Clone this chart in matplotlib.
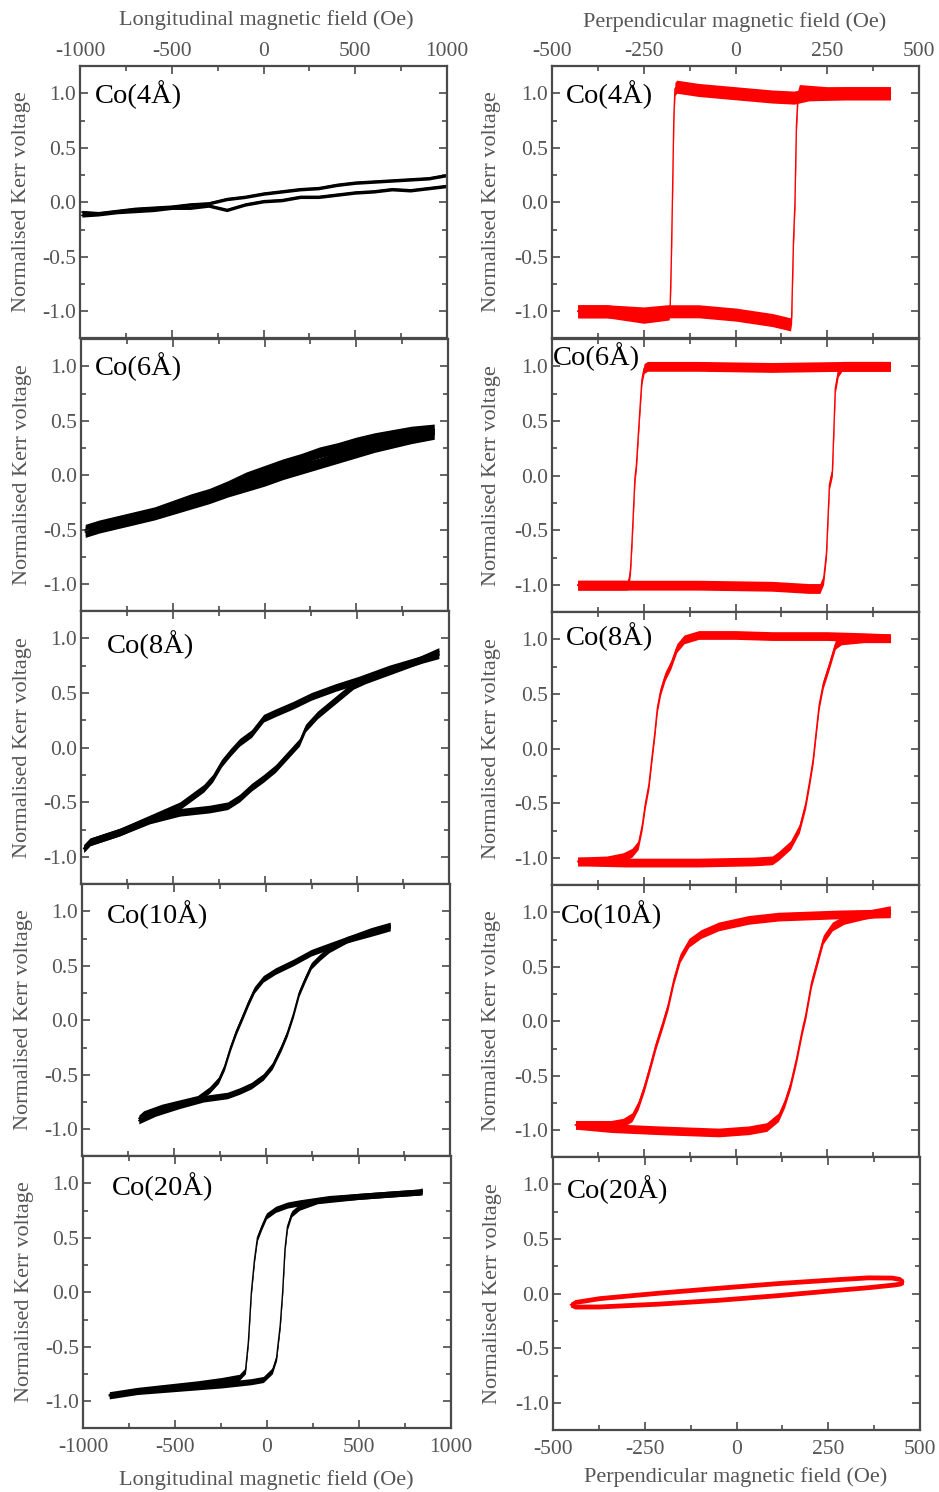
import matplotlib
matplotlib.use("Agg")
import matplotlib.pyplot as plt
from matplotlib.ticker import MultipleLocator
import numpy as np

plt.rcParams['font.family'] = ['Liberation Serif', 'DejaVu Serif']
plt.rcParams['axes.unicode_minus'] = False

# ---------------- data ----------------
samples = ["Co(4Å)", "Co(6Å)", "Co(8Å)", "Co(10Å)", "Co(20Å)"]

# Longitudinal loops (left column)
lon4_h = [-990, -900, -800, -700, -600, -500, -400, -300, -200, -100, 0, 100, 200, 300, 400, 500, 600, 700, 800, 900, 1000]
lon4_m_up = [-0.09, -0.10, -0.08, -0.06, -0.05, -0.04, -0.02, -0.01, 0.03, 0.05, 0.08, 0.10, 0.12, 0.13, 0.16, 0.18, 0.19, 0.20, 0.21, 0.22, 0.25]
lon4_m_dn = [-0.12, -0.11, -0.09, -0.08, -0.07, -0.05, -0.05, -0.03, -0.07, -0.02, 0.01, 0.02, 0.05, 0.05, 0.07, 0.09, 0.10, 0.12, 0.11, 0.13, 0.15]

lon6_h = [-977, -900, -800, -700, -600, -500, -400, -300, -200, -100, 0, 100, 200, 300, 400, 500, 600, 700, 800, 925]
lon6_m_up = [-0.50, -0.46, -0.42, -0.38, -0.34, -0.28, -0.22, -0.17, -0.10, -0.02, 0.04, 0.10, 0.15, 0.21, 0.25, 0.30, 0.34, 0.37, 0.40, 0.42]
lon6_m_dn = [-0.52, -0.48, -0.44, -0.40, -0.36, -0.31, -0.26, -0.21, -0.15, -0.10, -0.05, 0.01, 0.06, 0.11, 0.16, 0.21, 0.26, 0.30, 0.34, 0.38]

lon8_h_up = [945, 837, 675, 512, 382, 252, 154, 57, -8, -73, -138, -187, -236, -285, -333, -398, -463, -626, -789, -951, -985]
lon8_m_up = [0.88, 0.80, 0.72, 0.62, 0.55, 0.47, 0.39, 0.32, 0.27, 0.13, 0.05, -0.04, -0.14, -0.28, -0.37, -0.45, -0.53, -0.65, -0.77, -0.86, -0.92]
lon8_h_dn = [-985, -951, -789, -626, -463, -301, -203, -138, -73, -8, 57, 122, 187, 220, 285, 350, 415, 480, 545, 675, 837, 945]
lon8_m_dn = [-0.92, -0.86, -0.77, -0.66, -0.59, -0.56, -0.53, -0.46, -0.36, -0.28, -0.19, -0.07, 0.05, 0.18, 0.30, 0.39, 0.48, 0.57, 0.62, 0.70, 0.80, 0.85]

lon10_h_up = [675, 571, 441, 343, 246, 148, 50, -15, -63, -96, -128, -161, -193, -226, -258, -307, -372, -470, -567, -665, -691]
lon10_m_up = [0.87, 0.82, 0.74, 0.68, 0.62, 0.53, 0.45, 0.38, 0.28, 0.16, 0.03, -0.10, -0.25, -0.43, -0.55, -0.64, -0.72, -0.76, -0.80, -0.86, -0.90]
lon10_h_dn = [-691, -600, -470, -340, -210, -145, -80, -15, 34, 83, 115, 148, 180, 213, 246, 294, 343, 441, 571, 675]
lon10_m_dn = [-0.92, -0.85, -0.78, -0.72, -0.69, -0.65, -0.60, -0.52, -0.42, -0.25, -0.12, 0.05, 0.25, 0.38, 0.50, 0.58, 0.65, 0.74, 0.80, 0.85]

lon20_h_up = [843, 664, 501, 338, 176, 111, 46, -3, -29, -52, -68, -85, -101, -117, -150, -248, -378, -541, -704, -857]
lon20_m_up = [0.92, 0.90, 0.88, 0.86, 0.82, 0.80, 0.76, 0.70, 0.60, 0.50, 0.30, 0.00, -0.45, -0.72, -0.78, -0.81, -0.84, -0.87, -0.90, -0.94]
lon20_h_dn = [-857, -704, -476, -248, -85, -20, 29, 52, 72, 85, 98, 111, 134, 176, 274, 501, 827, 843]
lon20_m_dn = [-0.95, -0.91, -0.88, -0.85, -0.82, -0.80, -0.72, -0.60, -0.30, 0.00, 0.40, 0.60, 0.72, 0.78, 0.84, 0.88, 0.92, 0.93]

# Perpendicular loops (right column)
per4_h_up = [422, 300, 200, 160, 100, 0, -100, -160, -165, -168, -172, -175, -178, -181, -250, -350, -430]
per4_m_up = [1.00, 1.00, 0.99, 0.96, 0.97, 1.00, 1.03, 1.06, 1.04, 0.78, 0.00, -0.55, -0.95, -1.02, -1.05, -1.00, -1.00]
per4_h_dn = [-430, -350, -250, -185, -100, 0, 100, 150, 153, 158, 162, 166, 170, 174, 250, 350, 422]
per4_m_dn = [-1.00, -1.00, -1.02, -1.00, -1.00, -1.03, -1.08, -1.12, -1.05, -0.35, 0.00, 0.70, 0.97, 1.02, 1.00, 1.00, 1.00]

per6_h_up = [422, 300, 100, -100, -240, -249, -255, -261, -270, -274, -282, -286, -290, -295, -350, -430]
per6_m_up = [1.00, 1.00, 0.99, 1.00, 1.00, 0.98, 0.88, 0.58, 0.10, -0.02, -0.60, -0.85, -0.96, -1.00, -1.00, -1.00]
per6_h_dn = [-430, -300, -100, 100, 200, 230, 240, 248, 256, 264, 272, 280, 290, 350, 422]
per6_m_dn = [-1.00, -1.00, -1.00, -1.01, -1.03, -1.03, -0.95, -0.70, -0.08, 0.04, 0.80, 0.95, 1.00, 1.00, 1.00]

per8_h_up = [422, 350, 250, 100, 0, -100, -140, -160, -176, -192, -204, -213, -220, -228, -236, -246, -254, -265, -282, -306, -350, -430]
per8_m_up = [1.01, 1.02, 1.03, 1.03, 1.04, 1.04, 1.00, 0.92, 0.77, 0.66, 0.53, 0.37, 0.14, -0.09, -0.33, -0.51, -0.70, -0.88, -0.95, -0.99, -1.02, -1.03]
per8_h_dn = [-430, -300, -100, 50, 100, 117, 150, 174, 191, 202, 212, 218, 228, 239, 256, 272, 288, 350, 422]
per8_m_dn = [-1.03, -1.04, -1.04, -1.03, -1.02, -0.98, -0.88, -0.73, -0.51, -0.30, -0.09, 0.10, 0.40, 0.59, 0.77, 0.95, 0.99, 1.01, 1.01]

per10_h_up = [422, 280, 117, 36, -46, -94, -127, -151, -168, -184, -200, -217, -233, -249, -265, -282, -306, -339, -436]
per10_m_up = [0.99, 0.98, 0.96, 0.93, 0.87, 0.80, 0.72, 0.58, 0.38, 0.14, -0.04, -0.22, -0.42, -0.61, -0.77, -0.88, -0.93, -0.95, -0.95]
per10_h_dn = [-436, -339, -208, -127, -46, 36, 85, 117, 134, 150, 166, 182, 191, 207, 223, 239, 264, 296, 345, 422]
per10_m_dn = [-0.95, -0.98, -1.00, -1.01, -1.02, -1.00, -0.97, -0.88, -0.75, -0.58, -0.35, -0.08, 0.05, 0.35, 0.55, 0.75, 0.87, 0.93, 0.97, 1.02]

per20_h_up = [-452, -440, -374, -212, -49, 114, 277, 358, 423, 445, 455]
per20_m_up = [-0.10, -0.075, -0.04, 0.01, 0.055, 0.098, 0.134, 0.150, 0.148, 0.135, 0.11]
per20_h_dn = [-452, -440, -374, -212, -49, 114, 277, 358, 430, 448, 455]
per20_m_dn = [-0.10, -0.117, -0.116, -0.09, -0.055, -0.012, 0.037, 0.06, 0.085, 0.095, 0.11]

left_loops = [
    [(lon4_h, lon4_m_up), (lon4_h, lon4_m_dn)],
    [(lon6_h, lon6_m_up), (lon6_h, lon6_m_dn)],
    [(lon8_h_up, lon8_m_up), (lon8_h_dn, lon8_m_dn)],
    [(lon10_h_up, lon10_m_up), (lon10_h_dn, lon10_m_dn)],
    [(lon20_h_up, lon20_m_up), (lon20_h_dn, lon20_m_dn)],
]
right_loops = [
    [(per4_h_up, per4_m_up), (per4_h_dn, per4_m_dn)],
    [(per6_h_up, per6_m_up), (per6_h_dn, per6_m_dn)],
    [(per8_h_up, per8_m_up), (per8_h_dn, per8_m_dn)],
    [(per10_h_up, per10_m_up), (per10_h_dn, per10_m_dn)],
    [(per20_h_up, per20_m_up), (per20_h_dn, per20_m_dn)],
]

left_ticks = [-1000, -500, 0, 500, 1000]
right_ticks = [-500, -250, 0, 250, 500]
y_ticks = [-1.0, -0.5, 0.0, 0.5, 1.0]

# ---------------- style / layout ----------------
W, H = 939, 1492
fig = plt.figure(figsize=(W / 100, H / 100), dpi=100)

left_boxes = [(80, 66, 447, 338), (81, 339, 448, 611), (81, 611, 449, 884),
              (82, 884, 450, 1156), (83, 1156, 451, 1428)]
right_boxes = [(552, 66, 919, 338), (552, 339, 919, 612), (552, 612, 919, 885),
               (552, 885, 919, 1157), (553, 1157, 920, 1430)]

left_noise = [0.016, 0.05, 0.035, 0.03, 0.028]
right_noise = [0.06, 0.045, 0.04, 0.04, 0.022]

left_label_pos = [(95, 95), (95, 367), (107, 645), (107, 915), (112, 1187)]
right_label_pos = [(566, 95), (553, 357), (566, 637), (561, 915), (567, 1190)]

SPINE = '#4a4a4a'
TICKC = '#555555'


def make_ax(box):
    x0, y0, x1, y1 = box
    return fig.add_axes([x0 / W, 1 - y1 / H, (x1 - x0) / W, (y1 - y0) / H])


def style(ax, xt, xminor, xlim, top_labels, bottom_labels):
    ax.set_xlim(*xlim)
    ax.set_ylim(-1.245, 1.25)
    ax.set_xticks(xt)
    ax.xaxis.set_minor_locator(MultipleLocator(xminor))
    ax.set_yticks(y_ticks)
    ax.yaxis.set_minor_locator(MultipleLocator(0.25))
    ax.set_yticklabels([f"{v:.1f}" for v in y_ticks])
    ax.set_xticklabels([str(v) for v in xt])
    ax.tick_params(which='both', direction='in', top=True, right=True,
                   color=SPINE, width=1.2, labelcolor=TICKC, labelsize=15.5)
    ax.tick_params(which='major', length=6)
    ax.tick_params(which='minor', length=3.5)
    ax.tick_params(axis='x', pad=(3.5 if top_labels else 7),
                   labeltop=top_labels, labelbottom=bottom_labels)
    ax.tick_params(axis='y', pad=3)
    for s in ax.spines.values():
        s.set_color(SPINE)
        s.set_linewidth(1.6)
    ax.set_ylabel("Normalised Kerr voltage", fontsize=16, color=TICKC)


def draw(ax, loop, color, A, lw):
    for h, m in loop:
        m = np.asarray(m, float)
        ax.fill_between(h, m - A, m + A, color=color, lw=0)
        ax.plot(h, m, color=color, lw=lw, solid_joinstyle='round')


for i in range(5):
    axl = make_ax(left_boxes[i])
    style(axl, left_ticks, 250, (-1000, 1000), i == 0, i == 4)
    draw(axl, left_loops[i], 'black', left_noise[i], 1.0)
    axl.yaxis.set_label_coords(-0.134, 0.5)

    axr = make_ax(right_boxes[i])
    style(axr, right_ticks, 125, (-500, 500), i == 0, i == 4)
    draw(axr, right_loops[i], '#ff0000', right_noise[i], 1.0)
    axr.yaxis.set_label_coords(-0.139, 0.5)

    lx, ly = left_label_pos[i]
    fig.text(lx / W, 1 - ly / H, samples[i], fontsize=20.5, color='black',
             ha='left', va='center')
    rx, ry = right_label_pos[i]
    fig.text(rx / W, 1 - ry / H, samples[i], fontsize=20.5, color='black',
             ha='left', va='center')

fig.text(266 / W, 1 - 20 / H, "Longitudinal magnetic field (Oe)", fontsize=16,
         color=TICKC, ha='center', va='center')
fig.text(735 / W, 1 - 22 / H, "Perpendicular magnetic field (Oe)", fontsize=16,
         color=TICKC, ha='center', va='center')
fig.text(266 / W, 1 - 1480 / H, "Longitudinal magnetic field (Oe)", fontsize=16,
         color=TICKC, ha='center', va='center')
fig.text(736 / W, 1 - 1477 / H, "Perpendicular magnetic field (Oe)", fontsize=16,
         color=TICKC, ha='center', va='center')

fig.savefig("out.png", dpi=100)
